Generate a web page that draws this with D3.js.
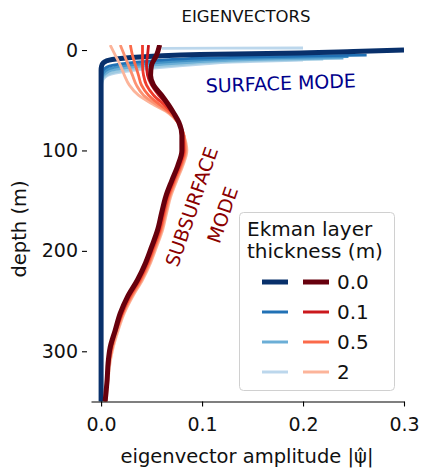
<!DOCTYPE html>
<html>
<head>
<meta charset="utf-8">
<script src="https://cdn.jsdelivr.net/npm/d3@7"></script>
<style>
  body { margin: 0; background: #fff; }
  svg { display: block; font-family: "DejaVu Sans", sans-serif; }
</style>
</head>
<body>
<div id="chart"></div>
<script>
// Ekman layer thickness (m) for each curve, legend shows a subset
const thickness = ['0.0', '0.1', '0.2', '0.5', '1', '2'];
const legendShown = ['0.0', '0.1', '0.5', '2'];
const xTicks = [0, 0.1, 0.2, 0.3];
const yTicks = [0, 100, 200, 300];

// subsurface mode: amplitude at these depths
const redDepth = [-5, 5, 15, 25, 35, 45, 55, 63, 72, 85, 100, 115, 130, 146, 162, 179, 196, 212, 229, 246, 262, 279, 296, 311, 328, 350];
const red00 = [0.058, 0.055, 0.050, 0.049, 0.052, 0.060, 0.067, 0.072, 0.077, 0.080, 0.080, 0.076, 0.070, 0.064, 0.060, 0.056, 0.050, 0.044, 0.036, 0.026, 0.019, 0.014, 0.009, 0.007, 0.006, 0.004];
const red01 = [0.047, 0.046, 0.045, 0.046, 0.050, 0.057, 0.066, 0.072, 0.077, 0.081, 0.081, 0.077, 0.071, 0.065, 0.061, 0.057, 0.051, 0.045, 0.037, 0.027, 0.020, 0.014, 0.010, 0.007, 0.006, 0.004];
const red02 = [0.041, 0.041, 0.041, 0.042, 0.045, 0.052, 0.063, 0.071, 0.077, 0.081, 0.082, 0.078, 0.072, 0.066, 0.062, 0.058, 0.052, 0.046, 0.038, 0.028, 0.021, 0.015, 0.010, 0.008, 0.006, 0.004];
const red05 = [0.029, 0.031, 0.034, 0.037, 0.040, 0.047, 0.059, 0.069, 0.076, 0.082, 0.083, 0.079, 0.073, 0.067, 0.063, 0.059, 0.053, 0.047, 0.039, 0.029, 0.021, 0.015, 0.011, 0.008, 0.006, 0.004];
const red1 = [0.019, 0.023, 0.027, 0.031, 0.035, 0.042, 0.056, 0.068, 0.076, 0.082, 0.084, 0.080, 0.074, 0.068, 0.064, 0.060, 0.054, 0.048, 0.040, 0.030, 0.022, 0.016, 0.011, 0.008, 0.006, 0.004];
const red2 = [0.009, 0.014, 0.019, 0.023, 0.028, 0.037, 0.053, 0.067, 0.076, 0.082, 0.085, 0.081, 0.075, 0.069, 0.065, 0.061, 0.055, 0.049, 0.041, 0.031, 0.023, 0.017, 0.012, 0.009, 0.007, 0.005];

// surface mode: [depth, amplitude] pairs, null = gap
const blue00 = [[0, 0.300], [1.5, 0.250], [3, 0.197], [4.5, 0.098], [6, 0.055], [7.5, 0.030], [9.5, 0.011], [11, 0.005], [13, 0.002], [16, 0.0005], [20, 0], [350, 0]];
const blue01 = [[5, 0.263], [6, 0.197], [7, 0.140], [8, 0.098], [10, 0.060], [12, 0.035], [14, 0.018], [16, 0.008], [19, 0.003], [23, 0.001], [30, 0], [350, 0]];
const blue02 = [[6.5, 0.245], [7.5, 0.180], [8.5, 0.130], [10, 0.095], [12, 0.062], [14, 0.038], [16, 0.020], [18, 0.010], [21, 0.004], [26, 0.001], [32, 0], [350, 0]];
const blue05 = [[8, 0.240], [9, 0.170], [10.5, 0.120], [12, 0.092], [14, 0.062], [16, 0.040], [18, 0.022], [20, 0.011], [23, 0.005], [28, 0.001], [35, 0], [350, 0]];
const blue1 = [[9, 0.220], [10.5, 0.150], [12, 0.110], [14, 0.085], [16, 0.060], [18, 0.040], [20, 0.024], [22, 0.013], [25, 0.005], [30, 0.001], [38, 0], [350, 0]];
const blue2 = [[-2, 0.200], [-1.8, 0.120], [-1.6, 0.060], null, [10, 0.200], [12, 0.130], [14, 0.100], [16, 0.075], [18, 0.052], [20, 0.034], [22, 0.020], [24, 0.010], [27, 0.004], [32, 0.001], [40, 0], [350, 0]];

const redSeries = [red00, red01, red02, red05, red1, red2];
const blueSeries = [blue00, blue01, blue02, blue05, blue1, blue2];
const redColors = ['#67000d', '#cb181d', '#ef3b2c', '#fb6a4a', '#fc9272', '#fcb49a'];
const blueColors = ['#08306b', '#2171b5', '#4292c6', '#6baed6', '#9ecae1', '#bcd7ec'];

const width = 423, height = 471;
const svg = d3.select('#chart').append('svg')
  .attr('width', width)
  .attr('height', height);

const x = d3.scaleLinear().domain([-0.01, 0.3]).range([91, 404]);
const y = d3.scaleLinear().domain([-5, 350]).range([45, 401.5]);

svg.append('defs').append('clipPath').attr('id', 'plot-clip')
  .append('rect')
  .attr('x', x.range()[0]).attr('y', y.range()[0])
  .attr('width', x.range()[1] - x.range()[0] + 2)
  .attr('height', y.range()[1] - y.range()[0]);

const line = d3.line()
  .defined(d => d !== null)
  .x(d => x(d[1]))
  .y(d => y(d[0]))
  .curve(d3.curveMonotoneY);

const g = svg.append('g').attr('clip-path', 'url(#plot-clip)');

// surface mode curves, lightest first so the 0.0 curve sits on top
for (let i = blueSeries.length - 1; i >= 0; i--) {
  g.append('path')
    .attr('d', line(blueSeries[i]))
    .attr('fill', 'none')
    .attr('stroke', blueColors[i])
    .attr('stroke-width', i === 0 ? 5 : 2.8)
    .attr('stroke-linejoin', 'round')
    .attr('stroke-linecap', 'butt');
}

// subsurface mode curves
for (let i = redSeries.length - 1; i >= 0; i--) {
  const pts = redDepth.map((d, k) => [d, redSeries[i][k]]);
  g.append('path')
    .attr('d', line(pts))
    .attr('fill', 'none')
    .attr('stroke', redColors[i])
    .attr('stroke-width', i === 0 ? 5 : 2.8)
    .attr('stroke-linejoin', 'round');
}

// x axis
const xAxis = svg.append('g')
  .attr('transform', `translate(0,${y.range()[1]})`)
  .call(d3.axisBottom(x).tickValues(xTicks).tickFormat(d3.format('.1f'))
    .tickSize(5).tickSizeOuter(0).tickPadding(11));
xAxis.select('.domain').attr('stroke', '#000').attr('stroke-width', 1.1);
xAxis.selectAll('.tick line').attr('stroke', '#000').attr('stroke-width', 1.1);
xAxis.selectAll('text').attr('font-size', 19).attr('fill', '#111')
  .attr('font-family', 'DejaVu Sans');

// y axis (spine hidden, ticks offset left)
const yAxis = svg.append('g')
  .attr('transform', 'translate(87,0)')
  .call(d3.axisLeft(y).tickValues(yTicks).tickSize(5).tickPadding(4));
yAxis.select('.domain').remove();
yAxis.selectAll('.tick line').attr('stroke', '#000').attr('stroke-width', 1.1);
yAxis.selectAll('text').attr('font-size', 19).attr('fill', '#111')
  .attr('font-family', 'DejaVu Sans');

// labels
svg.append('text')
  .attr('x', 247).attr('y', 463)
  .attr('text-anchor', 'middle')
  .attr('font-size', 19.5).attr('fill', '#111')
  .text('eigenvector amplitude |ψ̂|');

svg.append('text')
  .attr('transform', 'translate(26,229) rotate(-90)')
  .attr('text-anchor', 'middle')
  .attr('font-size', 19.5).attr('fill', '#111')
  .text('depth (m)');

svg.append('text')
  .attr('x', 246).attr('y', 22)
  .attr('text-anchor', 'middle')
  .attr('font-size', 16.5).attr('fill', '#111')
  .text('EIGENVECTORS');

// mode annotations
svg.append('text')
  .attr('transform', 'translate(281,90) rotate(-2)')
  .attr('text-anchor', 'middle')
  .attr('font-size', 19).attr('fill', '#00008b')
  .text('SURFACE MODE');

svg.append('text')
  .attr('transform', 'translate(198,209) rotate(-71)')
  .attr('text-anchor', 'middle')
  .attr('font-size', 19).attr('fill', '#8b0000')
  .text('SUBSURFACE');

svg.append('text')
  .attr('transform', 'translate(229,217) rotate(-71)')
  .attr('text-anchor', 'middle')
  .attr('font-size', 19).attr('fill', '#8b0000')
  .text('MODE');

// legend
const legend = svg.append('g');
legend.append('rect')
  .attr('x', 239.5).attr('y', 212.5)
  .attr('width', 155).attr('height', 178)
  .attr('rx', 4)
  .attr('fill', '#fff').attr('fill-opacity', 0.85)
  .attr('stroke', '#d0d0d0').attr('stroke-width', 1);

legend.append('text')
  .attr('x', 247).attr('y', 236)
  .attr('font-size', 20).attr('fill', '#111')
  .text('Ekman layer');
legend.append('text')
  .attr('x', 247).attr('y', 258)
  .attr('font-size', 20).attr('fill', '#111')
  .text('thickness (m)');

legendShown.forEach((t, j) => {
  const i = thickness.indexOf(t);
  const cy = 282 + j * 30;
  const w = i === 0 ? 5 : 3;
  legend.append('line')
    .attr('x1', 262).attr('x2', 288).attr('y1', cy).attr('y2', cy)
    .attr('stroke', blueColors[i]).attr('stroke-width', w);
  legend.append('line')
    .attr('x1', 303).attr('x2', 329).attr('y1', cy).attr('y2', cy)
    .attr('stroke', redColors[i]).attr('stroke-width', w);
  legend.append('text')
    .attr('x', 337).attr('y', cy + 7)
    .attr('font-size', 20).attr('fill', '#111')
    .text(t);
});
</script>
</body>
</html>
